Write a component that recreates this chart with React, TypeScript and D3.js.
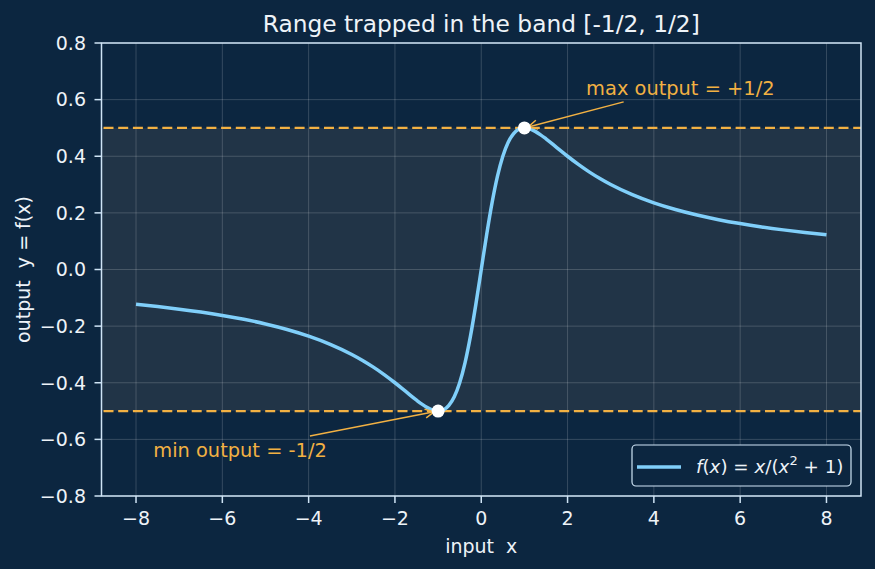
import React from "react";
import * as d3 from "d3";

const xs = [
  -8, -7.5, -7, -6.5, -6, -5.5, -5, -4.5, -4, -3.5, -3, -2.75, -2.5, -2.25, -2, -1.75, -1.5, -1.375, -1.25, -1.125, -1,
  -0.875, -0.75, -0.625, -0.5, -0.375, -0.25, -0.125, 0,
  0.125, 0.25, 0.375, 0.5, 0.625, 0.75, 0.875, 1,
  1.125, 1.25, 1.375, 1.5, 1.75, 2, 2.25, 2.5, 2.75, 3, 3.5, 4, 4.5, 5, 5.5, 6, 6.5, 7, 7.5, 8,
];
const ys = [
  -0.1231, -0.131, -0.14, -0.1503, -0.1622, -0.176, -0.1923, -0.2118, -0.2353, -0.2642, -0.3, -0.3212, -0.3448, -0.3711, -0.4, -0.4308, -0.4615, -0.4757, -0.4878, -0.4966, -0.5,
  -0.4956, -0.48, -0.4494, -0.4, -0.3288, -0.2353, -0.1231, 0,
  0.1231, 0.2353, 0.3288, 0.4, 0.4494, 0.48, 0.4956, 0.5,
  0.4966, 0.4878, 0.4757, 0.4615, 0.4308, 0.4, 0.3711, 0.3448, 0.3212, 0.3, 0.2642, 0.2353, 0.2118, 0.1923, 0.176, 0.1622, 0.1503, 0.14, 0.131, 0.1231,
];
const xTicks = [-8, -6, -4, -2, 0, 2, 4, 6, 8];
const yTicks = [-0.8, -0.6, -0.4, -0.2, 0, 0.2, 0.4, 0.6, 0.8];
const bandLevels = [-0.5, 0.5];
const extremaX = [1, -1];
const extremaY = [0.5, -0.5];
const annotationLabels = ["max output = +1/2", "min output = -1/2"];
const annotationTextX = [2.43, -7.6];
const annotationTextY = [0.615, -0.662];
const annotationStartX = [3.3, -3.97];
const annotationStartY = [0.592, -0.588];

const W = 875;
const H = 569;
const M = { left: 101.5, right: 861, top: 43, bottom: 496 };
const BG = "#0c2640";
const BAND = "#213447";
const SPINE = "#cfe4f5";
const ORANGE = "#f2b143";
const CURVE = "#80cffa";
const TEXT = "#eef3f8";
const FONT = "'DejaVu Sans', sans-serif";
const FS = 19;

export default function App() {
  const x = d3.scaleLinear().domain([-8.8, 8.8]).range([M.left, M.right]);
  const y = d3.scaleLinear().domain([-0.8, 0.8]).range([M.bottom, M.top]);
  const pts: [number, number][] = xs.map((v, i) => [v, ys[i]]);
  const line = d3
    .line<[number, number]>()
    .x((d) => x(d[0]))
    .y((d) => y(d[1]))
    .curve(d3.curveMonotoneX);
  const fmtY = (v: number) => d3.format(".1f")(v).replace("-", "\u2212");
  const fmtX = (v: number) => String(v).replace("-", "\u2212");

  return (
    <svg
      width={W}
      height={H}
      style={{ position: "absolute", left: 0, top: 0, display: "block" }}
      fontFamily={FONT}
    >
      <defs>
        <clipPath id="plotclip">
          <rect x={M.left} y={M.top} width={M.right - M.left} height={M.bottom - M.top} />
        </clipPath>
      </defs>
      <rect x={0} y={0} width={W} height={H} fill={BG} />
      {/* band */}
      <rect
        x={M.left}
        y={y(bandLevels[1])}
        width={M.right - M.left}
        height={y(bandLevels[0]) - y(bandLevels[1])}
        fill={BAND}
      />
      {/* grid */}
      <g stroke="#ffffff" strokeOpacity={0.22} strokeWidth={0.8}>
        {xTicks.map((t) => (
          <line key={"gx" + t} x1={x(t)} x2={x(t)} y1={M.top} y2={M.bottom} />
        ))}
        {yTicks.map((t) => (
          <line key={"gy" + t} x1={M.left} x2={M.right} y1={y(t)} y2={y(t)} />
        ))}
      </g>
      {/* dashed band limits */}
      {bandLevels.map((b) => (
        <line
          key={"b" + b}
          x1={M.left}
          x2={M.right}
          y1={y(b)}
          y2={y(b)}
          stroke={ORANGE}
          strokeWidth={2.3}
          strokeDasharray="10,4.7"
          strokeDashoffset={-2}
        />
      ))}
      {/* curve */}
      <path d={line(pts) || ""} fill="none" stroke={CURVE} strokeWidth={3.5} clipPath="url(#plotclip)" />
      {/* annotations */}
      {annotationLabels.map((lab, i) => {
        const sx = x(annotationStartX[i]);
        const sy = y(annotationStartY[i]);
        const px = x(extremaX[i]);
        const py = y(extremaY[i]);
        const dx = px - sx;
        const dy = py - sy;
        const len = Math.sqrt(dx * dx + dy * dy);
        const ux = dx / len;
        const uy = dy / len;
        const ex = px - ux * 4;
        const ey = py - uy * 4;
        const ah = 9;
        const aw = 4.5;
        const bx = ex - ux * ah;
        const by = ey - uy * ah;
        return (
          <g key={lab}>
            <line x1={sx} y1={sy} x2={ex} y2={ey} stroke={ORANGE} strokeWidth={1.5} />
            <polyline
              points={`${bx - uy * aw},${by + ux * aw} ${ex},${ey} ${bx + uy * aw},${by - ux * aw}`}
              fill="none"
              stroke={ORANGE}
              strokeWidth={1.5}
            />
            <text x={x(annotationTextX[i])} y={y(annotationTextY[i])} fill={ORANGE} fontSize={19.4}>
              {lab}
            </text>
          </g>
        );
      })}
      {/* extrema points */}
      {extremaX.map((v, i) => (
        <circle key={"p" + v} cx={x(v)} cy={y(extremaY[i])} r={6.5} fill="#ffffff" />
      ))}
      {/* spines */}
      <rect
        x={M.left}
        y={M.top}
        width={M.right - M.left}
        height={M.bottom - M.top}
        fill="none"
        stroke={SPINE}
        strokeWidth={1.5}
      />
      {/* x ticks */}
      {xTicks.map((t) => (
        <g key={"xt" + t}>
          <line x1={x(t)} x2={x(t)} y1={M.bottom} y2={M.bottom + 7} stroke={SPINE} strokeWidth={1.5} />
          <text x={x(t)} y={M.bottom + 28.5} textAnchor="middle" fill={TEXT} fontSize={FS}>
            {fmtX(t)}
          </text>
        </g>
      ))}
      {/* y ticks */}
      {yTicks.map((t) => (
        <g key={"yt" + t}>
          <line x1={M.left - 7} x2={M.left} y1={y(t)} y2={y(t)} stroke={SPINE} strokeWidth={1.5} />
          <text x={M.left - 15.5} y={y(t)} dy="0.36em" textAnchor="end" fill={TEXT} fontSize={FS}>
            {fmtY(t)}
          </text>
        </g>
      ))}
      {/* axis labels */}
      <text x={(M.left + M.right) / 2} y={553} textAnchor="middle" fill={TEXT} fontSize={FS} xmlSpace="preserve">
        input  x
      </text>
      <text
        transform={`translate(30, ${(M.top + M.bottom) / 2}) rotate(-90)`}
        textAnchor="middle"
        fill={TEXT}
        fontSize={FS}
        xmlSpace="preserve"
      >
        output  y = f(x)
      </text>
      {/* title */}
      <text x={(M.left + M.right) / 2} y={31.5} textAnchor="middle" fill={TEXT} fontSize={23.3}>
        Range trapped in the band [-1/2, 1/2]
      </text>
      {/* legend */}
      <g>
        <rect x={632} y={445} width={219} height={41} rx={4} fill={BG} stroke={SPINE} strokeWidth={1.2} />
        <line x1={637} x2={681} y1={467} y2={467} stroke={CURVE} strokeWidth={3.5} />
        <text x={696} y={473} fill={TEXT} fontSize={18.3} xmlSpace="preserve">
          <tspan fontStyle="italic">f</tspan>
          <tspan>(</tspan>
          <tspan fontStyle="italic">x</tspan>
          <tspan>) = </tspan>
          <tspan fontStyle="italic">x</tspan>
          <tspan>/(</tspan>
          <tspan fontStyle="italic">x</tspan>
          <tspan fontSize={13} dy={-8}>2</tspan>
          <tspan dy={8}> + 1)</tspan>
        </text>
      </g>
    </svg>
  );
}
